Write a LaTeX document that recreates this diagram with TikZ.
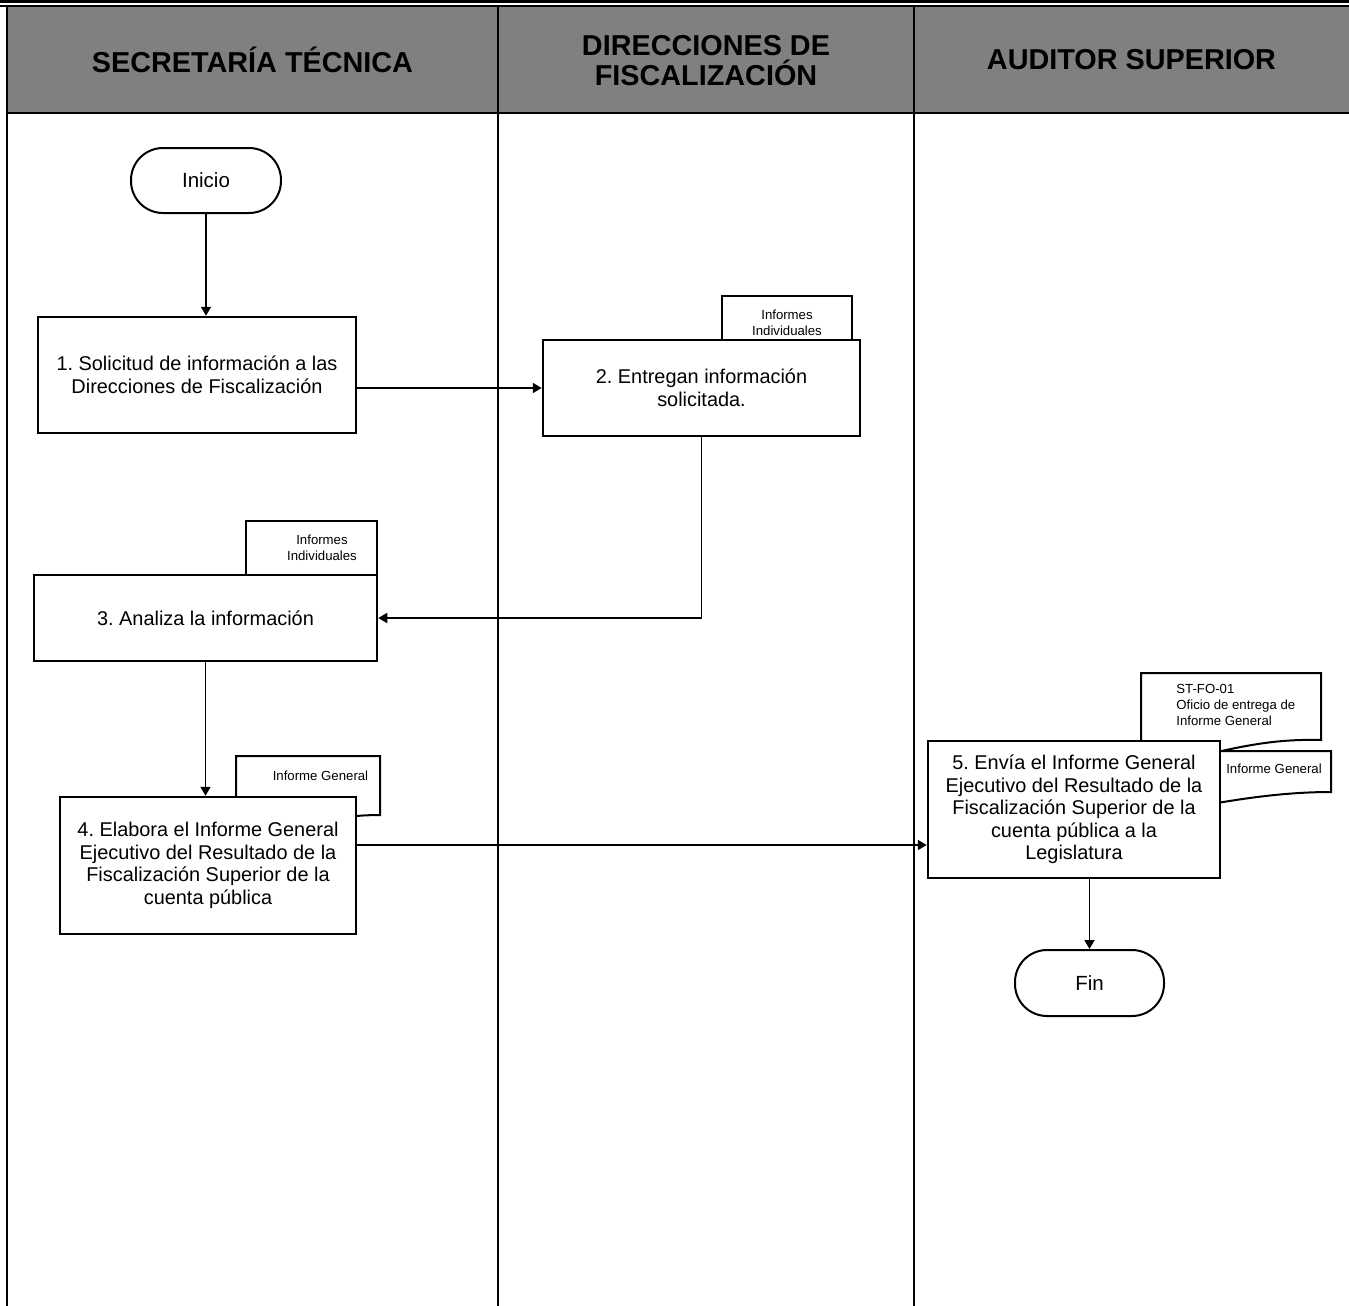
\documentclass[tikz,border=0pt]{standalone}
\usepackage{fontspec}
\setmainfont{Liberation Sans}
\usetikzlibrary{arrows.meta}

\begin{document}
\frenchspacing
\begin{tikzpicture}[x=0.5pt,y=-0.5pt,
  sz/.style 2 args={minimum width=#1*0.5pt,minimum height=#2*0.5pt},
  box/.style={draw,line width=1.25pt,fill=white,align=center,inner sep=0pt,
    font=\fontsize{9.95}{11.3}\selectfont},
  term/.style={draw,line width=1pt,fill=white,rounded corners=16pt,inner sep=0pt,
    font=\fontsize{10.25}{11.4}\selectfont},
  docshape/.style={draw,line width=1pt,fill=white},
  doctext/.style={inner sep=0pt,align=center,font=\fontsize{6.6}{8.2}\selectfont},
  head/.style={inner sep=0pt,align=center,font=\fontsize{14.4}{15}\selectfont\bfseries},
  lane/.style={line width=0.9pt},
  arr/.style={line width=0.9pt,-{Triangle[length=4.5pt,width=5pt]}}]

\useasboundingbox (0,0) rectangle (1349,1306);

% header band and frame
\fill[gray] (7,6) rectangle (1349,113);
\draw[line width=1.6pt] (0,1.6) -- (1349,1.6);
\draw[line width=0.7pt] (0,6) -- (1349,6);
\draw[line width=1pt] (7,6) -- (1349,6);
\draw[line width=1pt] (7,113) -- (1349,113);
\draw[line width=1pt] (7,6) -- (7,1306);
\draw[lane] (498,6) -- (498,1306);
\draw[lane] (914,6) -- (914,1306);

\node[head] (h1) at (252.5,60) {SECRETARÍA TÉCNICA};
\node[head] (h2) at (706,61) {DIRECCIONES DE\\FISCALIZACIÓN};
\node[head] (h3) at (1131.5,60) {AUDITOR SUPERIOR};

% documents lying behind the process boxes
\draw[docshape] (722,296) rectangle (852,352);
\node[doctext] (d2) at (787,323) {Informes\\Individuales};

\draw[docshape] (246,521) rectangle (377,590);
\node[doctext] (d3) at (322,548) {Informes\\Individuales};

\draw[docshape] (236,756) -- (380,756) -- (380,815)
  .. controls (330,815) and (300,828) .. (236,832) -- cycle;
\node[doctext] (d4) at (320.5,776) {Informe General};

\draw[docshape] (1141,673) -- (1321,673) -- (1321,740)
  .. controls (1280,739) and (1250,744) .. (1200,756) -- (1141,756) -- cycle;
\node[doctext,align=left,anchor=west] (d5a) at (1176,705) {ST-FO-01\\Oficio de entrega de\\Informe General};

\draw[docshape] (1200,751) -- (1331,751) -- (1331,792)
  .. controls (1290,792) and (1250,797) .. (1200,806) -- cycle;
\node[doctext] (d5b) at (1274,769) {Informe General};

% process steps
\node[term,sz={150}{65}] (ini) at (206,180.5) {Inicio};
\node[box,sz={318}{116}] (b1) at (197,375) {1. Solicitud de información a las\\Direcciones de Fiscalización};
\node[box,sz={317}{96}] (b2) at (701.5,388) {2. Entregan información\\solicitada.};
\node[box,sz={343}{86}] (b3) at (205.5,618) {3. Analiza la información};
\node[box,sz={296}{137}] (b4) at (208,865.5) {4. Elabora el Informe General\\Ejecutivo del Resultado de la\\Fiscalización Superior de la\\cuenta pública};
\node[box,sz={292}{137}] (b5) at (1074,809.5) {5. Envía el Informe General\\Ejecutivo del Resultado de la\\Fiscalización Superior de la\\cuenta pública a la\\Legislatura};
\node[term,sz={149}{66}] (fin) at (1089.5,983) {Fin};

% connectors
\coordinate (y45) at (0,845);
\draw[arr] (ini.south) -- (ini.south |- b1.north);
\draw[arr] (b1.east |- b2.west) -- (b2.west);
\draw[arr] (b2.south) |- (b3.east);
\draw[arr] (b3.south) -- (b3.south |- b4.north);
\draw[arr] (b4.east |- y45) -- (b5.west |- y45);
\draw[arr] (b5.south -| fin.north) -- (fin.north);
\end{tikzpicture}
\end{document}
